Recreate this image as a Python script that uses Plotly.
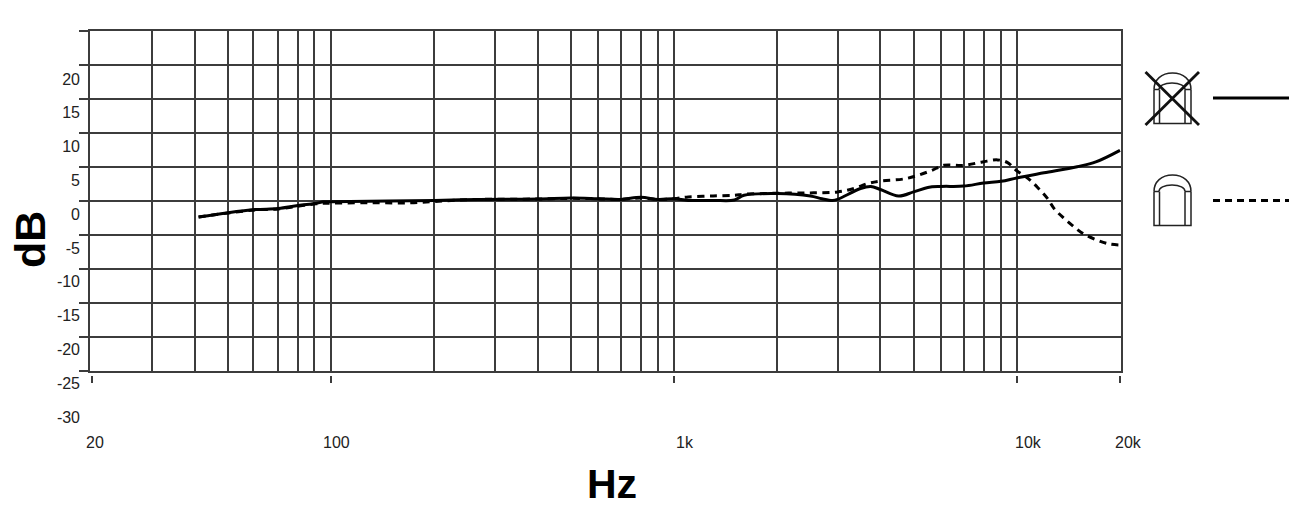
import math
import plotly.graph_objects as go

W, H = 1301, 506

# ---- data ----
freq_solid = [41, 50, 60, 70, 80, 90, 95, 100, 200, 270, 400, 500, 600, 700, 800, 900, 1000,
              1100, 1300, 1500, 1600, 2000, 2500, 2700, 2900, 3000, 3500, 3750, 4000, 4520, 5000,
              5500, 6000, 7000, 8000, 9000, 10000, 12000, 15000, 17000, 20000]
db_solid = [-2.4, -1.75, -1.3, -1.15, -0.7, -0.4, -0.15, -0.15, 0.05, 0.2, 0.25, 0.4, 0.3, 0.2, 0.5, 0.2, 0.3,
            0.05, 0.05, 0.1, 0.8, 1.05, 0.7, 0.3, 0.05, 0.2, 1.8, 2.1, 1.65, 0.7, 1.3,
            1.95, 2.1, 2.15, 2.6, 2.85, 3.35, 4.1, 5.0, 5.7, 7.4]

freq_dashed = [41, 50, 60, 70, 80, 90, 100, 130, 170, 200, 270, 400, 500, 600, 700, 800, 900, 1000,
               1100, 1300, 1500, 1600, 2000, 2500, 3000, 3350, 3660, 4000, 4740, 5610, 6120, 7000,
               7940, 8790, 9400, 10000, 10800, 11500, 12300, 12850, 13750, 14700, 15700, 17200,
               18600, 20000]
db_dashed = [-2.4, -1.8, -1.35, -1.2, -0.8, -0.45, -0.35, -0.3, -0.3, -0.1, 0.2, 0.25, 0.35, 0.3, 0.2, 0.4, 0.2, 0.3,
             0.55, 0.7, 0.8, 0.95, 1.1, 1.15, 1.3, 1.8, 2.5, 2.9, 3.25, 4.4, 5.2, 5.2,
             5.7, 6.0, 5.6, 4.4, 3.25, 1.95, 0.3, -1.15, -2.6, -3.85, -4.9, -5.8,
             -6.35, -6.5]

grid_freqs = [30, 40, 50, 59, 70, 80, 89, 100,
              200, 300, 400, 500, 600, 700, 800, 900, 1000,
              2000, 3000, 4000, 5000, 6000, 7000, 8000, 9000, 10000]
x_tick_vals = [20, 100, 1000, 10000, 20000]
x_tick_text = ["20", "100", "1k", "10k", "20k"]
y_grid_vals = [-25, -20, -15, -10, -5, 0, 5, 10, 15, 20, 25]
y_label_vals = [20, 15, 10, 5, 0, -5, -10, -15, -20, -25, -30]
y_label_text = [str(v) for v in y_label_vals]

# horizontal offset of each frequency label from its tick, as printed
x_label_shift = [3.5, 5, 10.5, 12, 9]

INK = "#3c3c3c"
TEXT_INK = "#222222"
FONT = "Liberation Sans"
X_RANGE = [1.2960, 4.3040]


def px(x):
    return x / W


def py(y):
    return 1 - y / H


def path(points, close=False):
    s = "M " + " L ".join(f"{px(a):.5f} {py(b):.5f}" for a, b in points)
    return s + (" Z" if close else "")


def arch(x0, x1, y_sh, y_top):
    w = x1 - x0
    h = y_sh - y_top
    return (f"M {px(x0):.5f} {py(y_sh):.5f} C {px(x0):.5f} {py(y_top+h*0.42):.5f} "
            f"{px(x0+w*0.2):.5f} {py(y_top):.5f} {px(x0+w/2):.5f} {py(y_top):.5f} "
            f"C {px(x1-w*0.2):.5f} {py(y_top):.5f} {px(x1):.5f} {py(y_top+h*0.42):.5f} "
            f"{px(x1):.5f} {py(y_sh):.5f}")


def icon(top_offset):
    o = top_offset
    ln = dict(color=TEXT_INK, width=1.5)
    out = []
    for p in [
        arch(1154, 1191, 191.5 + o, 175 + o),
        arch(1159, 1185, 191.5 + o, 185 + o),
        path([(1154, 191.5 + o), (1154, 225.5 + o), (1191, 225.5 + o), (1191, 191.5 + o)]),
        path([(1159.5, 191.5 + o), (1159.5, 225.5 + o)]),
        path([(1185, 191.5 + o), (1185, 225.5 + o)]),
        path([(1154, 191.5 + o), (1159, 191.5 + o)]),
        path([(1185, 191.5 + o), (1191, 191.5 + o)]),
    ]:
        out.append(dict(type="path", xref="paper", yref="paper", path=p, line=ln, layer="above"))
    return out


shapes = icon(0) + icon(-102)
for a, b in [((1145.5, 72), (1199, 125)), ((1199, 72), (1145.5, 125))]:
    shapes.append(dict(type="path", xref="paper", yref="paper", path=path([a, b]),
                       line=dict(color="#111111", width=2.8)))
shapes.append(dict(type="path", xref="paper", yref="paper", path=path([(1213, 98), (1289, 98)]),
                   line=dict(color="#000000", width=3)))
shapes.append(dict(type="path", xref="paper", yref="paper", path=path([(1213, 200.5), (1289, 200.5)]),
                   line=dict(color="#000000", width=3, dash="7px,5px")))

fig = go.Figure()
fig.add_trace(go.Scatter(x=freq_dashed, y=db_dashed, mode="lines", name="dashed",
                         line=dict(color="#000000", width=3, dash="7px,5.5px", shape="spline", smoothing=1.0)))
fig.add_trace(go.Scatter(x=freq_solid, y=db_solid, mode="lines", name="solid",
                         line=dict(color="#000000", width=3, shape="spline", smoothing=1.0)))
# invisible helper trace keeps the offset label axes alive
fig.add_trace(go.Scatter(x=x_tick_vals, y=y_label_vals[:5], xaxis="x2", yaxis="y2", mode="lines",
                         opacity=0, hoverinfo="skip", showlegend=False))

x_label_annotations = [
    dict(text=t, xref="x2", yref="paper", x=math.log10(v), y=py(442), xshift=s, showarrow=False,
         xanchor="center", yanchor="middle", font=dict(family=FONT, size=16, color=TEXT_INK))
    for t, v, s in zip(x_tick_text, x_tick_vals, x_label_shift)
]

fig.update_layout(
    width=W, height=H, autosize=False,
    margin=dict(l=0, r=0, t=0, b=0, pad=0, autoexpand=False),
    paper_bgcolor="white", plot_bgcolor="rgba(0,0,0,0)",
    showlegend=False,
    font=dict(family=FONT, size=16, color=TEXT_INK),
    shapes=shapes,
    xaxis=dict(type="log", domain=[px(90), px(1121)], range=X_RANGE,
               tickmode="array", tickvals=grid_freqs, showticklabels=False, ticks="",
               showgrid=True, gridcolor=INK, gridwidth=1.5,
               showline=True, linecolor=INK, linewidth=1.5, mirror=True, zeroline=False),
    yaxis=dict(domain=[py(371), py(30.5)], range=[-25, 25],
               tickmode="array", tickvals=y_grid_vals, showticklabels=False,
               ticks="outside", ticklen=9, tickwidth=1.5, tickcolor=INK,
               showgrid=True, gridcolor=INK, gridwidth=1.5,
               showline=True, linecolor=INK, linewidth=1.5, mirror=True, zeroline=False),
    xaxis2=dict(type="log", domain=[px(90), px(1121)], range=X_RANGE,
                anchor="free", position=py(375), showline=False, showgrid=False, zeroline=False,
                tickmode="array", tickvals=x_tick_vals, showticklabels=False,
                ticks="outside", ticklen=7, tickwidth=1.5, tickcolor=INK),
    yaxis2=dict(domain=[py(440), py(30)], range=[-33.4, 27.25],
                anchor="free", position=px(80), showline=False, showgrid=False, zeroline=False,
                tickmode="array", tickvals=y_label_vals, ticktext=y_label_text, ticks="",
                tickfont=dict(family=FONT, size=16, color=TEXT_INK)),
    annotations=x_label_annotations + [
        dict(text="<b>Hz</b>", xref="paper", yref="paper", x=px(612), y=py(484), showarrow=False,
             xanchor="center", yanchor="middle",
             font=dict(family=FONT, size=41, color="#000000")),
        dict(text="<b>dB</b>", xref="paper", yref="paper", x=px(30), y=py(240), showarrow=False,
             xanchor="center", yanchor="middle",
             textangle=-90, font=dict(family=FONT, size=43, color="#000000")),
    ],
)

fig.write_html("out.html", config={"displayModeBar": False},
               post_script="document.body.style.margin='0';")
